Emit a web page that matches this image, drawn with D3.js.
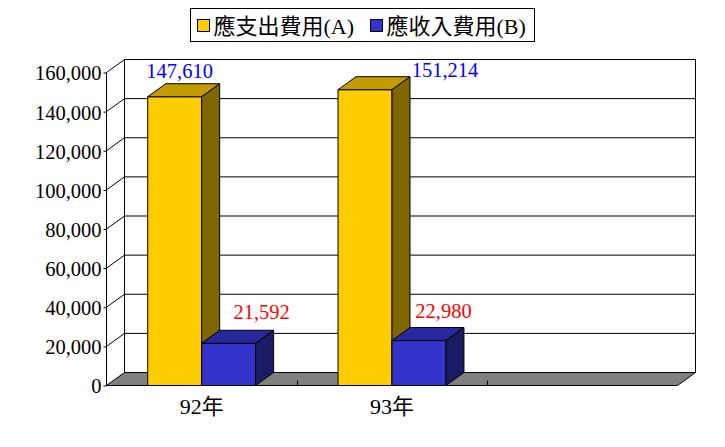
<!DOCTYPE html>
<html><head><meta charset="utf-8">
<script src="https://cdn.jsdelivr.net/npm/d3@7"></script>
<style>
html,body{margin:0;padding:0;background:#fff;}
svg{display:block;}
text{font-family:"Liberation Serif","Times New Roman","Noto Sans CJK TC",serif;}
</style></head>
<body><svg id="c" width="725" height="447"></svg>
<script>
// ---- data ----
const categories = ["92年", "93年", ""];
const seriesNames = ["應支出費用(A)", "應收入費用(B)"];
const payable = [147610, 151214, null];
const receivable = [21592, 22980, null];
const yTicks = [0, 20000, 40000, 60000, 80000, 100000, 120000, 140000, 160000];

// ---- layout / styles ----
const colors = [
  {front:"#FFCC00", top:"#C29B00", side:"#806600", label:"#0000FF"},
  {front:"#3333CC", top:"#27279E", side:"#1C1C66", label:"#FF0000"}
];
const labelOffsets = [ // [dx from bar front centre, dy from bar front top]
  [[5,-19],[80,-13]],
  [[33,-24],[24.5,-23]]
];
const X0 = 106.5, X1 = 677.5, Y0 = 385.5, Y1 = 72.5, DX = 18, DY = 13;
const FONT = '"Liberation Serif","Times New Roman","Noto Sans CJK TC",serif';

const svg = d3.select("#c");
const y = d3.scaleLinear().domain([0,160000]).range([Y0,Y1]);
const x = d3.scaleBand().domain(d3.range(categories.length)).range([X0,X1]).padding(0);
const groupFrac = 0.567;
const xs = d3.scaleBand().domain([0,1]).range([0, x.bandwidth()*groupFrac]).padding(0);

const g = svg.append("g");
// floor
g.append("path")
  .attr("d",`M${X0},${Y0}L${X1},${Y0}L${X1+DX},${Y0-DY}L${X0+DX},${Y0-DY}Z`)
  .attr("fill","#808080").attr("stroke","#000").attr("stroke-width",1);
// category divider ticks on floor
d3.range(1,categories.length).forEach(i=>{
  const xx = Math.round(x(i))+0.5;
  g.append("line").attr("x1",xx).attr("x2",xx).attr("y1",Y0).attr("y2",Y0-5).attr("stroke","#000");
});
// gridlines + walls
yTicks.filter(t=>t>0).forEach(t=>{
  const yy = y(t);
  g.append("path").attr("d",`M${X0},${yy}L${X0+DX},${yy-DY}L${X1+DX},${yy-DY}`)
    .attr("fill","none").attr("stroke","#000").attr("stroke-width",1);
});
g.append("line").attr("x1",X0+DX).attr("x2",X0+DX).attr("y1",Y1-DY).attr("y2",Y0-DY).attr("stroke","#000");
g.append("line").attr("x1",X1+DX).attr("x2",X1+DX).attr("y1",Y1-DY).attr("y2",Y0-DY).attr("stroke","#000");
g.append("line").attr("x1",X0).attr("x2",X0).attr("y1",Y1).attr("y2",Y0).attr("stroke","#000");

// y axis ticks & labels
const yAxis = d3.axisLeft(y).tickValues(yTicks).tickSize(3).tickPadding(2)
  .tickFormat(d3.format(","));
const ya = svg.append("g").attr("transform",`translate(${X0},0)`).call(yAxis);
ya.attr("font-family",null);
ya.select(".domain").remove();
ya.selectAll("line").attr("stroke","#000");
ya.selectAll("text").attr("font-size","20.5px").attr("fill","#000")
  .style("font-family",FONT).attr("dy","0.36em");

// bars
const seriesVals = [payable, receivable];
categories.forEach((c,i)=>{
  seriesVals.forEach((vals,s)=>{
    const v = vals[i];
    if (v==null) return;
    const bx = x(i) + (x.bandwidth()*(1-groupFrac))/2 + xs(s);
    const bw = xs.bandwidth();
    const ty = y(v);
    const col = colors[s];
    g.append("rect").attr("x",bx).attr("y",ty).attr("width",bw).attr("height",Y0-ty)
      .attr("fill",col.front).attr("stroke","#000").attr("stroke-width",1);
    g.append("path").attr("d",`M${bx},${ty}L${bx+DX},${ty-DY}L${bx+bw+DX},${ty-DY}L${bx+bw},${ty}Z`)
      .attr("fill",col.top).attr("stroke","#000").attr("stroke-width",1);
    g.append("path").attr("d",`M${bx+bw},${ty}L${bx+bw+DX},${ty-DY}L${bx+bw+DX},${Y0-DY}L${bx+bw},${Y0}Z`)
      .attr("fill",col.side).attr("stroke","#000").attr("stroke-width",1);
  });
});
// value labels
categories.forEach((c,i)=>{
  seriesVals.forEach((vals,s)=>{
    const v = vals[i];
    if (v==null) return;
    const bx = x(i) + (x.bandwidth()*(1-groupFrac))/2 + xs(s);
    const off = labelOffsets[s][i];
    svg.append("text").attr("x",bx+xs.bandwidth()/2+off[0]).attr("y",y(v)+off[1])
      .attr("text-anchor","middle").attr("font-size","20.5px").attr("fill",colors[s].label)
      .style("font-family",FONT).text(d3.format(",")(v));
  });
});

// category labels
categories.forEach((c,i)=>{
  svg.append("text").attr("x",x(i)+x.bandwidth()/2).attr("y",414)
    .attr("text-anchor","middle").attr("font-size","22px").attr("fill","#000")
    .style("font-family",FONT).text(c);
});

// legend
const lg = svg.append("g");
lg.append("rect").attr("x",190.5).attr("y",8.5).attr("width",344).attr("height",33)
  .attr("fill","#fff").attr("stroke","#000");
const legendX = [197.5, 370.5];
seriesNames.forEach((n,s)=>{
  lg.append("rect").attr("x",legendX[s]).attr("y",19.5).attr("width",12).attr("height",12)
    .attr("fill",colors[s].front).attr("stroke","#000");
  lg.append("text").attr("x",legendX[s]+16).attr("y",34).attr("font-size","22px").attr("fill","#000")
    .style("font-family",FONT).text(n);
});
</script></body></html>
